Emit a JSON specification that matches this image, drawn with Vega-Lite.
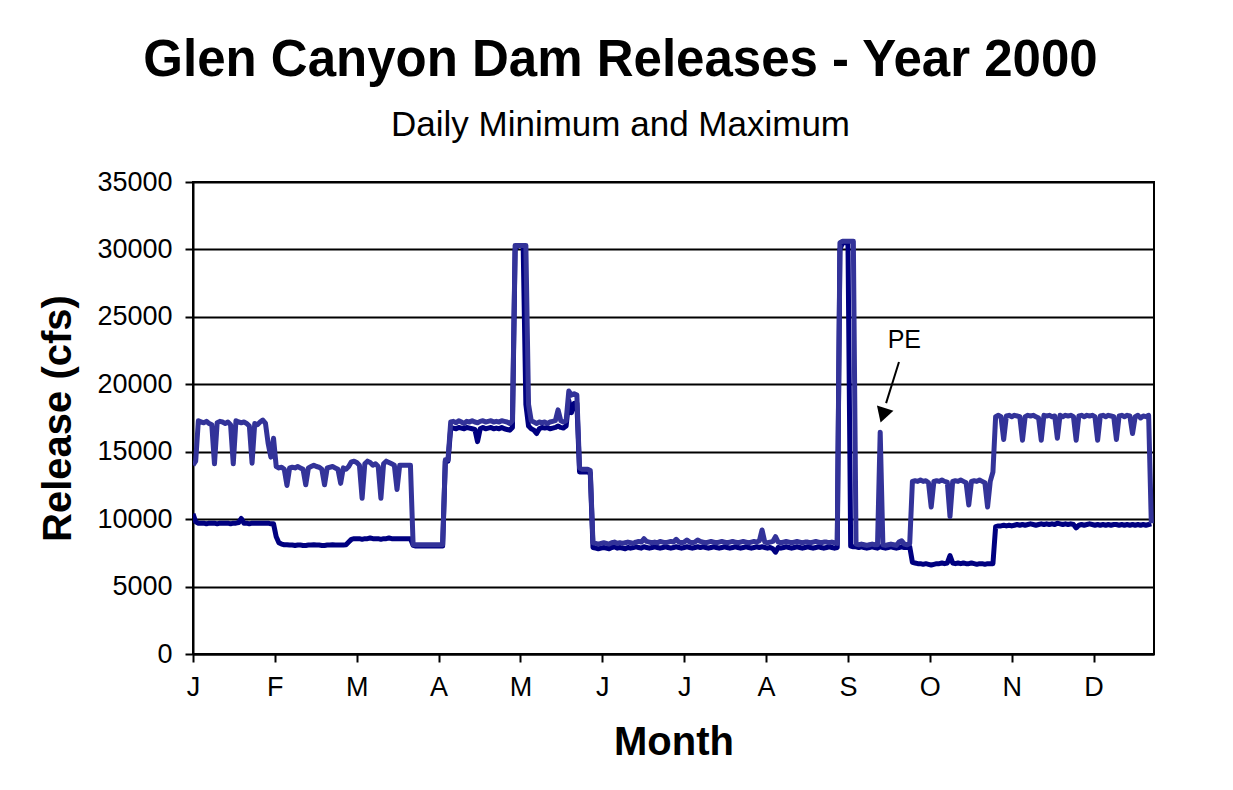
{
"$schema": "https://vega.github.io/schema/vega-lite/v6.json",
"width": 961,
"height": 472,
"autosize": {"type": "none"},
"padding": {"left": 193, "top": 182, "right": 79, "bottom": 136},
"background": "white",
"title": {"text": "Glen Canyon Dam Releases - Year 2000", "subtitle": "Daily Minimum and Maximum", "font": "Liberation Sans", "fontSize": 51, "fontWeight": "bold", "color": "black", "subtitleFont": "Liberation Sans", "subtitleFontSize": 35, "subtitleColor": "black", "anchor": "middle", "frame": "group", "dx": -53, "offset": 24, "subtitlePadding": 21},
"data": {"values": [
{"d":0,"mx":14000,"mn":10400},{"d":1,"mx":14300,"mn":9800},{"d":2,"mx":17300,"mn":9700},{"d":3,"mx":17200,"mn":9700},{"d":4,"mx":17150,"mn":9700},{"d":5,"mx":17250,"mn":9650},{"d":6,"mx":17100,"mn":9700},{"d":7,"mx":17000,"mn":9700},{"d":8,"mx":14100,"mn":9700},{"d":9,"mx":17150,"mn":9650},
{"d":10,"mx":17250,"mn":9700},{"d":11,"mx":17200,"mn":9700},{"d":12,"mx":17100,"mn":9700},{"d":13,"mx":17200,"mn":9700},{"d":14,"mx":17000,"mn":9650},{"d":15,"mx":14100,"mn":9700},{"d":16,"mx":17300,"mn":9700},{"d":17,"mx":17200,"mn":9750},{"d":18,"mx":17150,"mn":10050},{"d":19,"mx":17200,"mn":9700},
{"d":20,"mx":17100,"mn":9700},{"d":21,"mx":16900,"mn":9650},{"d":22,"mx":14150,"mn":9700},{"d":23,"mx":17100,"mn":9700},{"d":24,"mx":17000,"mn":9700},{"d":25,"mx":17200,"mn":9700},{"d":26,"mx":17350,"mn":9700},{"d":27,"mx":17100,"mn":9700},{"d":28,"mx":15600,"mn":9700},{"d":29,"mx":14600,"mn":9650},
{"d":30,"mx":16000,"mn":9650},{"d":31,"mx":13900,"mn":8700},{"d":32,"mx":13800,"mn":8250},{"d":33,"mx":13850,"mn":8150},{"d":34,"mx":13700,"mn":8100},{"d":35,"mx":12500,"mn":8100},{"d":36,"mx":13800,"mn":8080},{"d":37,"mx":13850,"mn":8080},{"d":38,"mx":13800,"mn":8050},{"d":39,"mx":13900,"mn":8080},
{"d":40,"mx":13800,"mn":8080},{"d":41,"mx":13700,"mn":8050},{"d":42,"mx":12550,"mn":8050},{"d":43,"mx":13800,"mn":8080},{"d":44,"mx":13900,"mn":8080},{"d":45,"mx":14000,"mn":8100},{"d":46,"mx":13900,"mn":8080},{"d":47,"mx":13850,"mn":8080},{"d":48,"mx":13700,"mn":8050},{"d":49,"mx":12550,"mn":8050},
{"d":50,"mx":13800,"mn":8080},{"d":51,"mx":13850,"mn":8080},{"d":52,"mx":13900,"mn":8100},{"d":53,"mx":13800,"mn":8080},{"d":54,"mx":13700,"mn":8080},{"d":55,"mx":12650,"mn":8080},{"d":56,"mx":13800,"mn":8080},{"d":57,"mx":13700,"mn":8100},{"d":58,"mx":13900,"mn":8300},{"d":59,"mx":14250,"mn":8500},
{"d":60,"mx":14300,"mn":8550},{"d":61,"mx":14200,"mn":8550},{"d":62,"mx":14000,"mn":8550},{"d":63,"mx":11550,"mn":8500},{"d":64,"mx":14100,"mn":8550},{"d":65,"mx":14300,"mn":8550},{"d":66,"mx":14200,"mn":8600},{"d":67,"mx":14000,"mn":8550},{"d":68,"mx":14100,"mn":8550},{"d":69,"mx":13900,"mn":8550},
{"d":70,"mx":11550,"mn":8500},{"d":71,"mx":14100,"mn":8550},{"d":72,"mx":14300,"mn":8550},{"d":73,"mx":14200,"mn":8600},{"d":74,"mx":14100,"mn":8550},{"d":75,"mx":14000,"mn":8550},{"d":76,"mx":12200,"mn":8550},{"d":77,"mx":14000,"mn":8550},{"d":78,"mx":14000,"mn":8550},{"d":79,"mx":14000,"mn":8550},
{"d":80,"mx":14000,"mn":8550},{"d":81,"mx":14000,"mn":8550},{"d":82,"mx":8100,"mn":8050},{"d":83,"mx":8100,"mn":8000},{"d":84,"mx":8100,"mn":8000},{"d":85,"mx":8100,"mn":8000},{"d":86,"mx":8100,"mn":8000},{"d":87,"mx":8100,"mn":8000},{"d":88,"mx":8100,"mn":8000},{"d":89,"mx":8100,"mn":8000},
{"d":90,"mx":8100,"mn":8000},{"d":91,"mx":8100,"mn":8000},{"d":92,"mx":8100,"mn":8000},{"d":93,"mx":8100,"mn":8000},{"d":94,"mx":14400,"mn":14300},{"d":95,"mx":14400,"mn":14300},{"d":96,"mx":17200,"mn":16700},{"d":97,"mx":17250,"mn":16750},{"d":98,"mx":17150,"mn":16700},{"d":99,"mx":17300,"mn":16800},
{"d":100,"mx":17200,"mn":16750},{"d":101,"mx":17100,"mn":16700},{"d":102,"mx":17250,"mn":16800},{"d":103,"mx":17200,"mn":16750},{"d":104,"mx":17300,"mn":16700},{"d":105,"mx":17200,"mn":16650},{"d":106,"mx":17150,"mn":15750},{"d":107,"mx":17250,"mn":16700},{"d":108,"mx":17300,"mn":16800},{"d":109,"mx":17200,"mn":16700},
{"d":110,"mx":17250,"mn":16750},{"d":111,"mx":17300,"mn":16800},{"d":112,"mx":17200,"mn":16700},{"d":113,"mx":17250,"mn":16750},{"d":114,"mx":17200,"mn":16700},{"d":115,"mx":17300,"mn":16800},{"d":116,"mx":17250,"mn":16700},{"d":117,"mx":17200,"mn":16650},{"d":118,"mx":17100,"mn":16600},{"d":119,"mx":17300,"mn":16800},
{"d":120,"mx":30300,"mn":30000},{"d":121,"mx":30300,"mn":30300},{"d":122,"mx":30300,"mn":30300},{"d":123,"mx":30300,"mn":30200},{"d":124,"mx":30300,"mn":18500},{"d":125,"mx":18500,"mn":16900},{"d":126,"mx":17300,"mn":16700},{"d":127,"mx":17200,"mn":16600},{"d":128,"mx":17100,"mn":16350},{"d":129,"mx":17200,"mn":16700},
{"d":130,"mx":17150,"mn":16800},{"d":131,"mx":17200,"mn":16750},{"d":132,"mx":17100,"mn":16800},{"d":133,"mx":17200,"mn":16700},{"d":134,"mx":17250,"mn":16750},{"d":135,"mx":17300,"mn":16800},{"d":136,"mx":18100,"mn":16900},{"d":137,"mx":17300,"mn":16800},{"d":138,"mx":17200,"mn":16750},{"d":139,"mx":17300,"mn":16900},
{"d":140,"mx":19500,"mn":18800},{"d":141,"mx":19200,"mn":17900},{"d":142,"mx":19300,"mn":18600},{"d":143,"mx":19200,"mn":18600},{"d":144,"mx":13800,"mn":13500},{"d":145,"mx":13700,"mn":13500},{"d":146,"mx":13700,"mn":13500},{"d":147,"mx":13700,"mn":13500},{"d":148,"mx":13600,"mn":13400},{"d":149,"mx":8250,"mn":7900},
{"d":150,"mx":8200,"mn":7850},{"d":151,"mx":8150,"mn":7800},{"d":152,"mx":8200,"mn":7850},{"d":153,"mx":8250,"mn":7900},{"d":154,"mx":8200,"mn":7850},{"d":155,"mx":8150,"mn":7800},{"d":156,"mx":8250,"mn":7900},{"d":157,"mx":8300,"mn":7950},{"d":158,"mx":8200,"mn":7850},{"d":159,"mx":8250,"mn":7900},
{"d":160,"mx":8200,"mn":7850},{"d":161,"mx":8250,"mn":7800},{"d":162,"mx":8300,"mn":7900},{"d":163,"mx":8250,"mn":7850},{"d":164,"mx":8200,"mn":7900},{"d":165,"mx":8300,"mn":7950},{"d":166,"mx":8350,"mn":7900},{"d":167,"mx":8300,"mn":7850},{"d":168,"mx":8550,"mn":7950},{"d":169,"mx":8350,"mn":7900},
{"d":170,"mx":8300,"mn":7850},{"d":171,"mx":8250,"mn":7900},{"d":172,"mx":8300,"mn":7950},{"d":173,"mx":8250,"mn":7900},{"d":174,"mx":8350,"mn":7850},{"d":175,"mx":8300,"mn":7900},{"d":176,"mx":8250,"mn":7950},{"d":177,"mx":8300,"mn":7900},{"d":178,"mx":8350,"mn":7850},{"d":179,"mx":8300,"mn":7900},
{"d":180,"mx":8500,"mn":7950},{"d":181,"mx":8300,"mn":7900},{"d":182,"mx":8250,"mn":7850},{"d":183,"mx":8300,"mn":7900},{"d":184,"mx":8450,"mn":7950},{"d":185,"mx":8300,"mn":7900},{"d":186,"mx":8250,"mn":7850},{"d":187,"mx":8300,"mn":7900},{"d":188,"mx":8450,"mn":7950},{"d":189,"mx":8350,"mn":7900},
{"d":190,"mx":8300,"mn":7950},{"d":191,"mx":8250,"mn":7900},{"d":192,"mx":8300,"mn":7850},{"d":193,"mx":8350,"mn":7900},{"d":194,"mx":8300,"mn":7950},{"d":195,"mx":8250,"mn":7900},{"d":196,"mx":8300,"mn":7850},{"d":197,"mx":8350,"mn":7900},{"d":198,"mx":8300,"mn":7950},{"d":199,"mx":8250,"mn":7900},
{"d":200,"mx":8300,"mn":7850},{"d":201,"mx":8350,"mn":7900},{"d":202,"mx":8300,"mn":7950},{"d":203,"mx":8250,"mn":7900},{"d":204,"mx":8300,"mn":7850},{"d":205,"mx":8350,"mn":7900},{"d":206,"mx":8300,"mn":7950},{"d":207,"mx":8250,"mn":7900},{"d":208,"mx":8300,"mn":7850},{"d":209,"mx":8350,"mn":7900},
{"d":210,"mx":8300,"mn":7950},{"d":211,"mx":8400,"mn":7900},{"d":212,"mx":9200,"mn":7950},{"d":213,"mx":8300,"mn":7900},{"d":214,"mx":8250,"mn":7850},{"d":215,"mx":8300,"mn":7900},{"d":216,"mx":8350,"mn":7800},{"d":217,"mx":8700,"mn":7550},{"d":218,"mx":8300,"mn":7900},{"d":219,"mx":8250,"mn":7850},
{"d":220,"mx":8300,"mn":7900},{"d":221,"mx":8350,"mn":7950},{"d":222,"mx":8300,"mn":7900},{"d":223,"mx":8250,"mn":7850},{"d":224,"mx":8300,"mn":7900},{"d":225,"mx":8350,"mn":7950},{"d":226,"mx":8300,"mn":7900},{"d":227,"mx":8250,"mn":7850},{"d":228,"mx":8300,"mn":7900},{"d":229,"mx":8300,"mn":7950},
{"d":230,"mx":8250,"mn":7900},{"d":231,"mx":8300,"mn":7850},{"d":232,"mx":8350,"mn":7900},{"d":233,"mx":8300,"mn":7950},{"d":234,"mx":8250,"mn":7900},{"d":235,"mx":8300,"mn":7850},{"d":236,"mx":8300,"mn":7900},{"d":237,"mx":8250,"mn":7950},{"d":238,"mx":8300,"mn":7900},{"d":239,"mx":8250,"mn":7850},
{"d":240,"mx":8200,"mn":7900},{"d":241,"mx":30500,"mn":30000},{"d":242,"mx":30600,"mn":30500},{"d":243,"mx":30600,"mn":30500},{"d":244,"mx":30600,"mn":30500},{"d":245,"mx":30600,"mn":8000},{"d":246,"mx":30600,"mn":7950},{"d":247,"mx":8150,"mn":7950},{"d":248,"mx":8100,"mn":7900},{"d":249,"mx":8150,"mn":7950},
{"d":250,"mx":8100,"mn":7900},{"d":251,"mx":8050,"mn":7850},{"d":252,"mx":8100,"mn":7900},{"d":253,"mx":8150,"mn":7950},{"d":254,"mx":8100,"mn":7900},{"d":255,"mx":8100,"mn":7850},{"d":256,"mx":16450,"mn":7950},{"d":257,"mx":8100,"mn":7900},{"d":258,"mx":8050,"mn":7850},{"d":259,"mx":8100,"mn":7900},
{"d":260,"mx":8150,"mn":7950},{"d":261,"mx":8100,"mn":7900},{"d":262,"mx":8050,"mn":7850},{"d":263,"mx":8300,"mn":7900},{"d":264,"mx":8400,"mn":7950},{"d":265,"mx":8150,"mn":7900},{"d":266,"mx":8100,"mn":7900},{"d":267,"mx":8200,"mn":7950},{"d":268,"mx":12800,"mn":6800},{"d":269,"mx":12850,"mn":6750},
{"d":270,"mx":12800,"mn":6700},{"d":271,"mx":12900,"mn":6700},{"d":272,"mx":12800,"mn":6650},{"d":273,"mx":12850,"mn":6700},{"d":274,"mx":12700,"mn":6650},{"d":275,"mx":10900,"mn":6600},{"d":276,"mx":12800,"mn":6650},{"d":277,"mx":12850,"mn":6700},{"d":278,"mx":12800,"mn":6700},{"d":279,"mx":12900,"mn":6750},
{"d":280,"mx":12800,"mn":6700},{"d":281,"mx":12750,"mn":6750},{"d":282,"mx":10200,"mn":7300},{"d":283,"mx":12800,"mn":6750},{"d":284,"mx":12850,"mn":6700},{"d":285,"mx":12800,"mn":6750},{"d":286,"mx":12900,"mn":6700},{"d":287,"mx":12800,"mn":6750},{"d":288,"mx":12700,"mn":6700},{"d":289,"mx":11050,"mn":6700},
{"d":290,"mx":12800,"mn":6750},{"d":291,"mx":12850,"mn":6700},{"d":292,"mx":12800,"mn":6650},{"d":293,"mx":12900,"mn":6700},{"d":294,"mx":12800,"mn":6700},{"d":295,"mx":12700,"mn":6650},{"d":296,"mx":10900,"mn":6700},{"d":297,"mx":12800,"mn":6700},{"d":298,"mx":13500,"mn":6700},{"d":299,"mx":17600,"mn":9450},
{"d":300,"mx":17700,"mn":9500},{"d":301,"mx":17600,"mn":9500},{"d":302,"mx":15900,"mn":9550},{"d":303,"mx":17650,"mn":9500},{"d":304,"mx":17700,"mn":9550},{"d":305,"mx":17600,"mn":9500},{"d":306,"mx":17700,"mn":9550},{"d":307,"mx":17650,"mn":9600},{"d":308,"mx":17600,"mn":9550},{"d":309,"mx":15850,"mn":9600},
{"d":310,"mx":17600,"mn":9550},{"d":311,"mx":17700,"mn":9600},{"d":312,"mx":17650,"mn":9650},{"d":313,"mx":17700,"mn":9600},{"d":314,"mx":17600,"mn":9550},{"d":315,"mx":17500,"mn":9600},{"d":316,"mx":15850,"mn":9650},{"d":317,"mx":17700,"mn":9600},{"d":318,"mx":17650,"mn":9650},{"d":319,"mx":17700,"mn":9600},
{"d":320,"mx":17600,"mn":9650},{"d":321,"mx":17650,"mn":9600},{"d":322,"mx":16000,"mn":9700},{"d":323,"mx":17700,"mn":9650},{"d":324,"mx":17600,"mn":9600},{"d":325,"mx":17700,"mn":9650},{"d":326,"mx":17650,"mn":9600},{"d":327,"mx":17700,"mn":9650},{"d":328,"mx":17600,"mn":9600},{"d":329,"mx":15850,"mn":9350},
{"d":330,"mx":17650,"mn":9550},{"d":331,"mx":17700,"mn":9600},{"d":332,"mx":17600,"mn":9550},{"d":333,"mx":17700,"mn":9600},{"d":334,"mx":17650,"mn":9650},{"d":335,"mx":17700,"mn":9600},{"d":336,"mx":17600,"mn":9550},{"d":337,"mx":15850,"mn":9600},{"d":338,"mx":17650,"mn":9550},{"d":339,"mx":17700,"mn":9600},
{"d":340,"mx":17600,"mn":9550},{"d":341,"mx":17700,"mn":9600},{"d":342,"mx":17650,"mn":9550},{"d":343,"mx":17600,"mn":9600},{"d":344,"mx":15900,"mn":9600},{"d":345,"mx":17650,"mn":9550},{"d":346,"mx":17700,"mn":9600},{"d":347,"mx":17600,"mn":9550},{"d":348,"mx":17700,"mn":9600},{"d":349,"mx":17650,"mn":9550},
{"d":350,"mx":16350,"mn":9600},{"d":351,"mx":17600,"mn":9550},{"d":352,"mx":17700,"mn":9600},{"d":353,"mx":17500,"mn":9550},{"d":354,"mx":17650,"mn":9600},{"d":355,"mx":17600,"mn":9550},{"d":356,"mx":17700,"mn":9600},{"d":357,"mx":9700,"mn":9650}
]},
"encoding": {
  "x": {"field": "d", "type": "quantitative", "scale": {"domain": [0, 358], "nice": false, "zero": false},
        "axis": {"values": [0, 30.5, 61, 91.5, 122, 152.5, 183, 213.5, 244, 274.5, 305, 335.5],
                 "labelExpr": "['J','F','M','A','M','J','J','A','S','O','N','D'][round(datum.value/30.5)]",
                 "title": "Month", "grid": false, "labelFontSize": 27, "labelPadding": 12, "tickSize": 8,
                 "titleFontSize": 40, "titleFontWeight": "bold", "titlePadding": 22, "labelFlush": false}}
},
"layer": [
  {"mark": {"type": "line", "color": "#000080", "strokeWidth": 5, "strokeJoin": "round", "clip": true},
   "encoding": {"y": {"field": "mn", "type": "quantitative", "scale": {"domain": [0, 35000], "nice": false},
     "axis": {"values": [0, 5000, 10000, 15000, 20000, 25000, 30000, 35000], "format": "d", "title": "Release (cfs)",
              "grid": true, "gridColor": "black", "gridWidth": 2, "gridOpacity": 1, "labelFontSize": 27, "labelPadding": 13, "tickSize": 8,
              "titleFontSize": 40, "titleFontWeight": "bold", "titlePadding": 18}}}},
  {"mark": {"type": "line", "color": "#333399", "strokeWidth": 5, "strokeJoin": "round", "clip": true},
   "encoding": {"y": {"field": "mx", "type": "quantitative"}}},
  {"data": {"values": [{"d": 265, "v": 23300, "t": "PE"}]},
   "mark": {"type": "text", "font": "Liberation Sans", "fontSize": 25, "color": "black", "align": "center", "baseline": "middle"},
   "encoding": {"y": {"field": "v", "type": "quantitative"}, "text": {"field": "t"}}},
  {"data": {"values": [{"d": 263, "v": 21650, "d2": 258.2, "v2": 18600}]},
   "mark": {"type": "rule", "color": "black", "strokeWidth": 2},
   "encoding": {"y": {"field": "v", "type": "quantitative"}, "x2": {"field": "d2"}, "y2": {"field": "v2"}}},
  {"data": {"values": [{"d": 257, "v": 17700}]},
   "mark": {"type": "point", "shape": "triangle-down", "filled": true, "color": "black", "size": 300, "opacity": 1, "angle": 18},
   "encoding": {"y": {"field": "v", "type": "quantitative"}}}
],
"config": {
  "view": {"stroke": "black", "strokeWidth": 2},
  "axis": {"domainColor": "black", "domainWidth": 2, "tickColor": "black", "tickWidth": 2, "labelColor": "black", "titleColor": "black", "labelFont": "Liberation Sans", "titleFont": "Liberation Sans"},
  "legend": {"disable": true}
}
}
